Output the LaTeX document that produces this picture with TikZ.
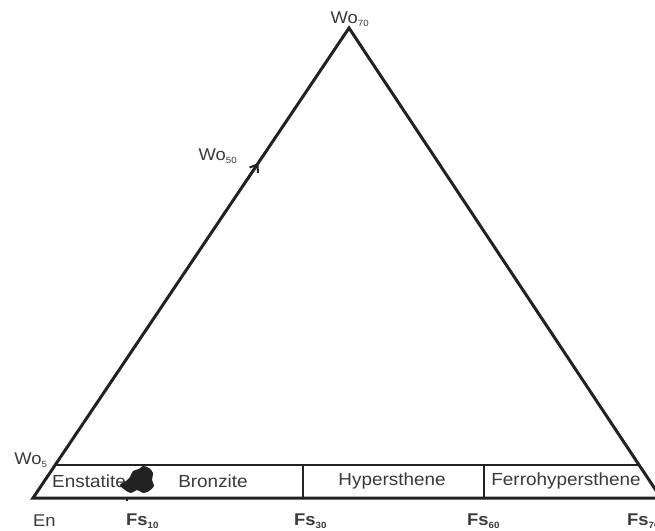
\documentclass[tikz,border=0pt]{standalone}
\usepackage{fontspec}
\setmainfont[FakeStretch=1.08]{Liberation Sans}
\usetikzlibrary{arrows.meta}
\definecolor{inkline}{HTML}{222222}
\definecolor{inktext}{HTML}{3A3A3A}
\tikzset{
  edge/.style={draw=inkline, line width=3pt, line join=miter},
  band/.style={draw=inkline, line width=2.6pt},
  field/.style={text=inktext, font=\fontsize{17.5}{20}\selectfont, inner sep=0pt},
  corner/.style={text=inktext, font=\fontsize{17}{19}\selectfont, inner sep=0pt},
  axis/.style={text=inktext, font=\bfseries\fontsize{17}{19}\selectfont, inner sep=0pt}
}
\newcommand{\sub}[1]{\textsubscript{\fontsize{9}{10}\selectfont #1}}
\begin{document}
\begin{tikzpicture}[x=1pt,y=-1pt]
    \useasboundingbox (0,0) rectangle (655,530);
    % corners of the triangle
    \coordinate (Wo70) at (349,28);
    \coordinate (En) at (33,498);
    \coordinate (Fs70) at (661,498);
    \coordinate (WoL) at (55,465);
    \coordinate (WoR) at (640,465);
    % band dividers
    \coordinate (B30) at (303,465);
    \coordinate (C30) at (303,498);
    \coordinate (B60) at (484,465);
    \coordinate (C60) at (484,498);
    \draw[edge] (En) -- (Wo70) -- (Fs70) -- cycle;
    \draw[band] (WoL) -- (WoR);
    \draw[band] (B30) -- (C30);
    \draw[band] (B60) -- (C60);
    % arrow at Wo50
    \coordinate (A1) at (248,179);
    \coordinate (A2) at (258.5,163);
    \draw[draw=inkline, line width=2pt, -{Straight Barb[length=7pt,width=10pt]}] (A1) -- (A2);
    % field names
    \node[field] (enst) at (89,481) {Enstatite};
    \node[field] (bron) at (213,481) {Bronzite};
    \node[field] (hyp) at (392,481) {Hypersthene};
    \node[field] (ferro) at (566,481) {Ferrohypersthene};
    % data cloud
    \fill[inkline] plot[smooth cycle, tension=0.55] coordinates {
      (120,485) (126,481) (130,477) (133,471) (139,469) (143,466) (149,468)
      (153,473) (152,480) (154,486) (149,491) (143,493) (137,490) (131,493) (125,490)};
    \draw[inkline, line width=1.4pt] (127,497) -- (127,501);
    % corner labels
    \node[corner] (lWo70) at (350,19) {Wo\sub{70}};
    \node[corner] (lWo50) at (218,156) {Wo\sub{50}};
    \node[corner] (lWo5) at (31,460) {Wo\sub{5}};
    \node[corner, anchor=west] (lEn) at (33,521) {En};
    \node[axis, anchor=west] (lFs10) at (126,521) {Fs\sub{10}};
    \node[axis, anchor=west] (lFs30) at (294,521) {Fs\sub{30}};
    \node[axis, anchor=west] (lFs60) at (467,521) {Fs\sub{60}};
    \node[axis, anchor=west] (lFs70) at (627,521) {Fs\sub{70}};
\end{tikzpicture}
\end{document}
